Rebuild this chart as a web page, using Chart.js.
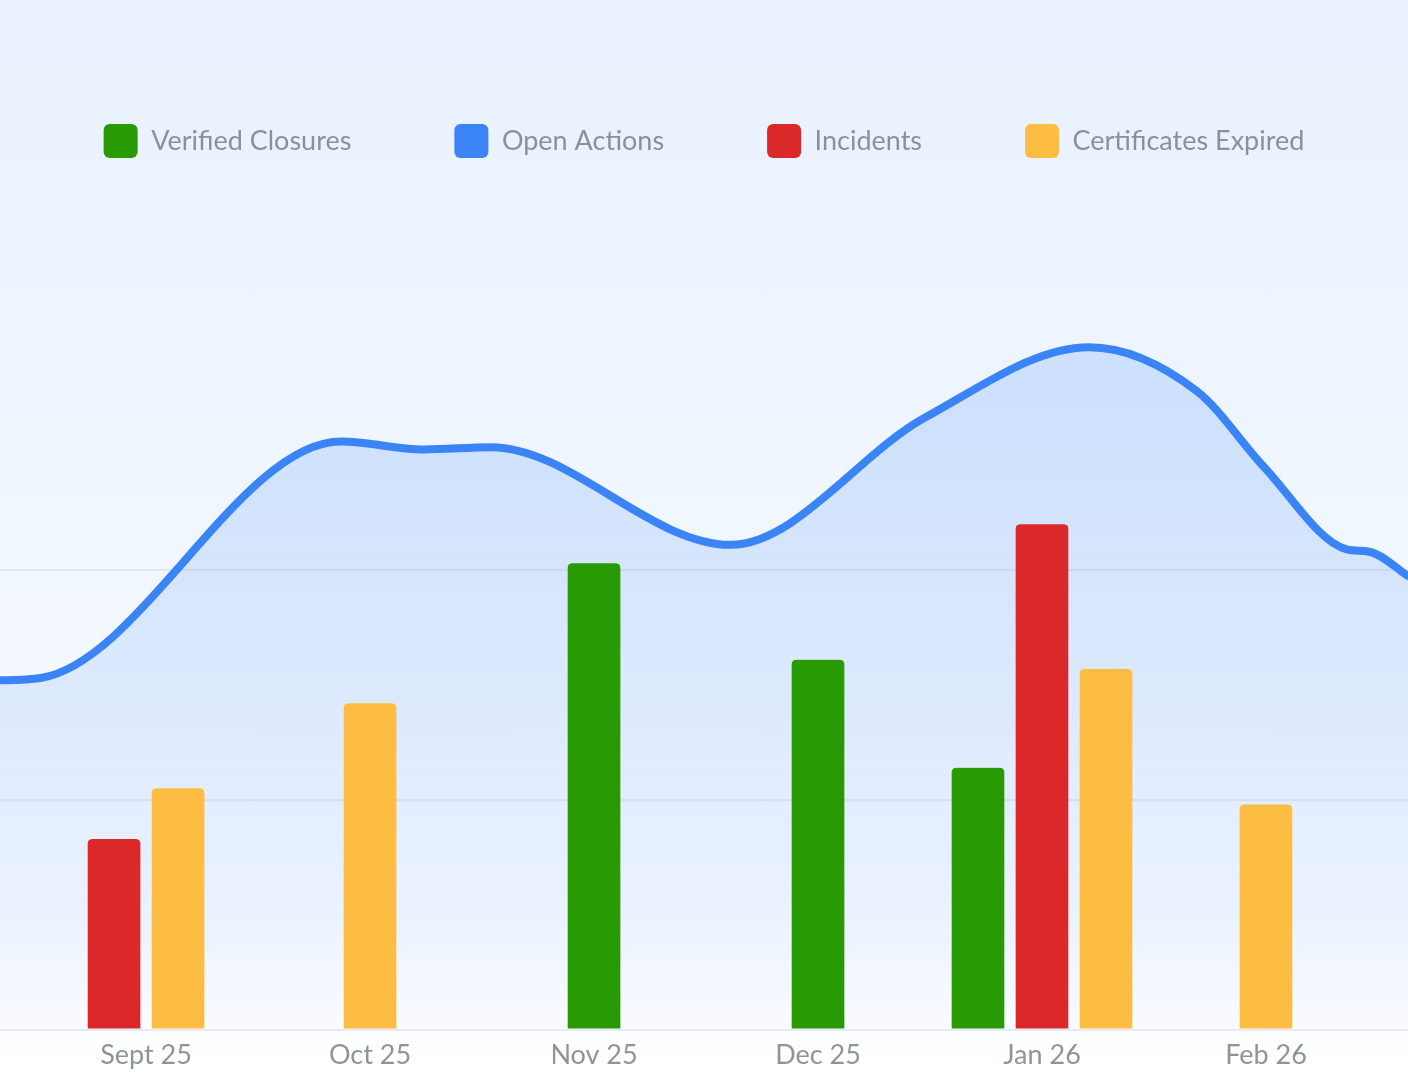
<!DOCTYPE html>
<html>
<head>
<meta charset="utf-8">
<script src="https://cdn.jsdelivr.net/npm/chart.js@4.4.1/dist/chart.umd.min.js"></script>
<style>
  html, body { margin: 0; padding: 0; }
  body {
    width: 1408px;
    height: 1080px;
    background: linear-gradient(180deg, #e8f1fd 0%, #eef5fe 35%, #f3f8fe 60%, #f9fbff 85%, #ffffff 100%);
  }
  #wrap { position: relative; width: 1408px; height: 1080px; }
</style>
</head>
<body>
<div id="wrap"><canvas id="chart"></canvas></div>
<script>
const months = ['Sept 25', 'Oct 25', 'Nov 25', 'Dec 25', 'Jan 26', 'Feb 26'];
const verifiedClosures = [null, null, 20.3, 16.1, 11.4, null];
const incidents = [8.3, null, null, null, 22.0, null];
const certificatesExpired = [10.5, 14.2, null, null, 15.7, 9.8];

// open actions trend, x measured in months (0 = Sept 25)
const openActionsX = [-0.66, -0.47, 0.87, 1.24, 1.54, 2.61, 3.48, 4.21, 4.69, 4.99, 5.36, 5.46, 5.64];
const openActionsY = [15.2, 15.3, 25.6, 25.25, 25.35, 21.1, 26.65, 29.7, 27.8, 24.5, 20.9, 20.8, 19.7];

const green = '#289a04';
const blue = '#3b84f5';
const red = '#db2828';
const yellow = '#fdbd42';
const legendColors = [green, blue, red, yellow];

const tickFont = { family: 'Lato', size: 27 };

function toPoints(values) {
    return values.map((v, i) => ({ x: i, y: v }));
}

const barStyle = {
    type: 'bar',
    barThickness: 64,
    borderWidth: { left: 6, right: 6, top: 0, bottom: 0 },
    borderColor: 'rgba(0,0,0,0)',
    borderRadius: 11,
    borderSkipped: 'start',
    skipNull: true,
    order: 1
};

const ctx = document.getElementById('chart');

new Chart(ctx, {
    type: 'bar',
    data: {
        datasets: [
            Object.assign({ label: 'Verified Closures', data: toPoints(verifiedClosures), backgroundColor: green }, barStyle),
            {
                type: 'line',
                label: 'Open Actions',
                data: openActionsX.map((x, i) => ({ x: x, y: openActionsY[i] })),
                borderColor: blue,
                borderWidth: 8,
                pointRadius: 0,
                cubicInterpolationMode: 'monotone',
                fill: 'origin',
                order: 2,
                backgroundColor: function (c) {
                    const area = c.chart.chartArea;
                    if (!area) return 'rgba(59,132,245,0.15)';
                    const g = c.chart.ctx.createLinearGradient(0, area.top, 0, area.bottom);
                    g.addColorStop(0, 'rgba(59,132,245,0.21)');
                    g.addColorStop(0.2, 'rgba(59,132,245,0.19)');
                    g.addColorStop(0.5, 'rgba(59,132,245,0.15)');
                    g.addColorStop(0.85, 'rgba(59,132,245,0.075)');
                    g.addColorStop(1, 'rgba(59,132,245,0.02)');
                    return g;
                }
            },
            Object.assign({ label: 'Incidents', data: toPoints(incidents), backgroundColor: red }, barStyle),
            Object.assign({ label: 'Certificates Expired', data: toPoints(certificatesExpired), backgroundColor: yellow }, barStyle)
        ]
    },
    options: {
        responsive: true,
        maintainAspectRatio: false,
        animation: false,
        devicePixelRatio: 1,
        layout: { padding: { top: 21, bottom: 0, left: 0, right: 0 } },
        plugins: {
            tooltip: { enabled: false },
            legend: {
                position: 'top',
                labels: {
                    boxWidth: 34,
                    boxHeight: 34,
                    padding: 103,
                    useBorderRadius: true,
                    borderRadius: 6,
                    color: '#8b9199',
                    font: tickFont,
                    sort: (a, b) => a.datasetIndex - b.datasetIndex,
                    generateLabels: function (chart) {
                        const items = Chart.defaults.plugins.legend.labels.generateLabels(chart);
                        return items.map(it => Object.assign(it, {
                            fillStyle: legendColors[it.datasetIndex],
                            strokeStyle: legendColors[it.datasetIndex],
                            lineWidth: 0,
                            borderRadius: 6
                        }));
                    }
                }
            }
        },
        scales: {
            x: {
                type: 'linear',
                min: -0.652,
                max: 5.634,
                offset: false,
                grid: { display: false, offset: false, drawTicks: false },
                border: { display: false },
                ticks: {
                    stepSize: 1,
                    includeBounds: false,
                    autoSkip: false,
                    maxRotation: 0,
                    padding: 9,
                    color: '#8e949b',
                    font: tickFont,
                    callback: v => months[v] ?? ''
                }
            },
            y: {
                min: 0,
                max: 37.5,
                border: { display: false },
                ticks: { display: false, stepSize: 10 },
                grid: {
                    drawTicks: false,
                    lineWidth: 2,
                    color: c => (c.tick && c.tick.value <= 20) ? 'rgba(205,214,228,0.45)' : 'rgba(0,0,0,0)'
                }
            }
        }
    }
});
</script>
</body>
</html>
